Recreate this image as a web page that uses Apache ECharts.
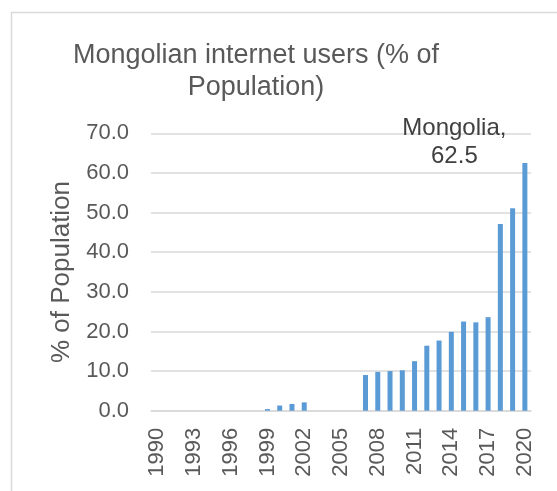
<!DOCTYPE html>
<html>
<head>
<meta charset="utf-8">
<script src="https://cdn.jsdelivr.net/npm/echarts@6/dist/echarts.min.js"></script>
<style>
  html, body { margin: 0; padding: 0; background: #ffffff; }
  #chart { width: 557px; height: 491px; }
</style>
</head>
<body>
<div id="chart"></div>
<script>
// Internet users in Mongolia, share of population (%), by year
const years = [
  '1990','1991','1992','1993','1994','1995','1996','1997','1998','1999',
  '2000','2001','2002','2003','2004','2005','2006','2007','2008','2009',
  '2010','2011','2012','2013','2014','2015','2016','2017','2018','2019','2020'
];
const usersPct = [
  null, null, null, null, null, null, null, null, null, 0.4,
  1.3, 1.7, 2.1, null, null, null, null, 9.0, 9.8, 10.0,
  10.2, 12.5, 16.4, 17.7, 19.9, 22.5, 22.3, 23.6, 47.1, 51.1, 62.5
];
const yTicks = { min: 0, max: 70, step: 10 };
const seriesName = 'Mongolia';
const chartTitle = 'Mongolian internet users (% of\nPopulation)';
const yAxisTitle = '% of Population';

const FONT = '"Liberation Sans", Arial, sans-serif';
const GREY = '#595959';

const chart = echarts.init(document.getElementById('chart'), null, { renderer: 'canvas' });

const lastIdx = usersPct.length - 1;
const barData = usersPct.map((v, i) => {
  if (i !== lastIdx) return v;
  return {
    value: v,
    label: {
      show: true,
      position: 'top',
      offset: [-70.5, 12],
      formatter: p => p.seriesName + ',\n' + p.value.toFixed(1),
      fontFamily: FONT,
      fontSize: 24,
      lineHeight: 28,
      color: '#404040',
      align: 'center'
    }
  };
});

chart.setOption({
  animation: false,
  backgroundColor: '#ffffff',
  graphic: [
    {
      type: 'rect',
      shape: { x: 11.5, y: 12.5, width: 700, height: 700 },
      style: { fill: 'none', stroke: '#D9D9D9', lineWidth: 1.5 },
      silent: true
    },
    {
      type: 'text',
      x: 256,
      y: 40,
      style: {
        text: chartTitle,
        fontFamily: FONT,
        fontSize: 27,
        lineHeight: 32,
        fill: GREY,
        align: 'center',
        verticalAlign: 'top'
      },
      silent: true
    }
  ],
  grid: { left: 151, right: 26, top: 133.3, bottom: 80.3, containLabel: false },
  xAxis: {
    type: 'category',
    data: years,
    axisLine: { show: true, lineStyle: { color: '#D9D9D9', width: 1.5 } },
    axisTick: { show: false },
    axisLabel: {
      interval: 2,
      rotate: 90,
      margin: 17,
      fontFamily: FONT,
      fontSize: 22,
      color: GREY
    },
    splitLine: { show: false }
  },
  yAxis: {
    type: 'value',
    min: yTicks.min,
    max: yTicks.max,
    interval: yTicks.step,
    name: yAxisTitle,
    nameLocation: 'middle',
    nameGap: 76.5,
    nameTextStyle: { fontFamily: FONT, fontSize: 26, color: GREY },
    axisLine: { show: false },
    axisTick: { show: false },
    axisLabel: {
      margin: 22,
      fontFamily: FONT,
      fontSize: 22,
      color: GREY,
      formatter: v => v.toFixed(1)
    },
    splitLine: { lineStyle: { color: '#D9D9D9', width: 1.5 } }
  },
  series: [
    {
      name: seriesName,
      type: 'bar',
      data: barData,
      barWidth: 5,
      itemStyle: { color: '#5B9BD5' },
      label: { show: false }
    }
  ]
});
</script>
</body>
</html>
